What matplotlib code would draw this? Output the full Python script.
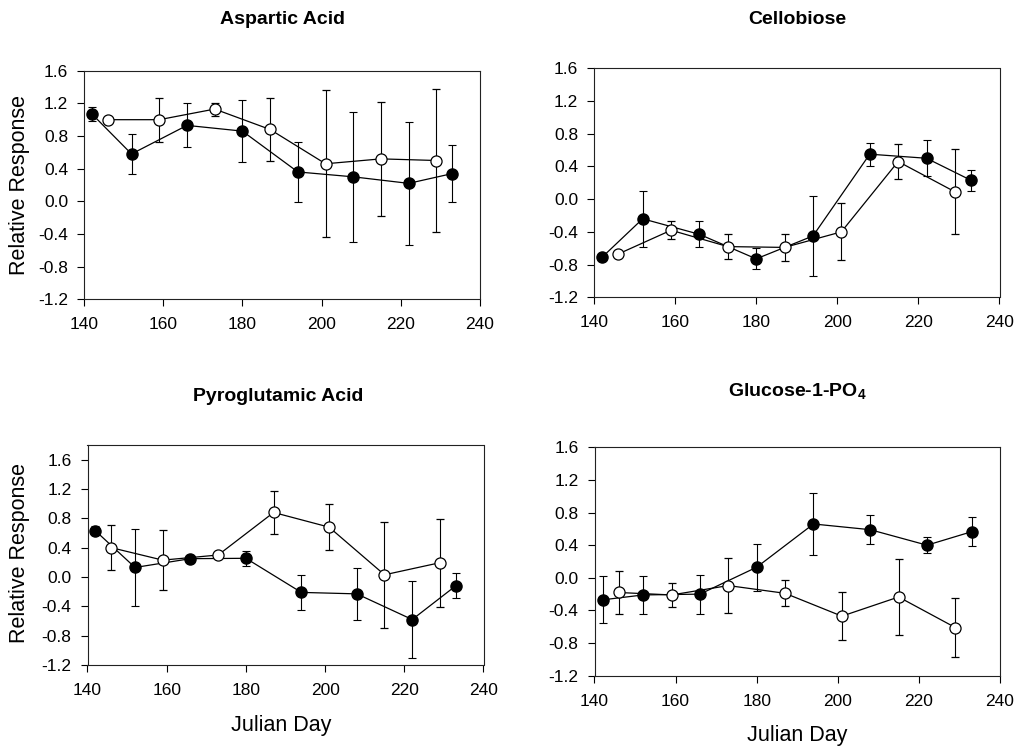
import numpy as np
import matplotlib
matplotlib.use("Agg")
import matplotlib.pyplot as plt

plt.rcParams["font.family"] = ["Liberation Sans", "DejaVu Sans"]
plt.rcParams["mathtext.fontset"] = "custom"
plt.rcParams["mathtext.rm"] = "Liberation Sans:bold"
plt.rcParams["mathtext.it"] = "Liberation Sans:bold"

# sampling days (Julian day) for the two series
filled_days = [142, 152, 166, 180, 194, 208, 222, 233]
open_days = [146, 159, 173, 187, 201, 215, 229]

asp_filled = [1.07, 0.58, 0.93, 0.86, 0.36, 0.30, 0.22, 0.34]
asp_filled_err = [0.08, 0.25, 0.27, 0.38, 0.37, 0.80, 0.75, 0.35]
asp_open = [1.00, 1.00, 1.13, 0.88, 0.46, 0.52, 0.50]
asp_open_err = [0.0, 0.27, 0.08, 0.39, 0.90, 0.70, 0.87]

cel_filled = [-0.71, -0.24, -0.43, -0.73, -0.45, 0.55, 0.50, 0.23]
cel_filled_err = [0.0, 0.34, 0.16, 0.13, 0.49, 0.14, 0.22, 0.13]
cel_open = [-0.67, -0.38, -0.58, -0.59, -0.40, 0.46, 0.09]
cel_open_err = [0.0, 0.11, 0.15, 0.17, 0.35, 0.21, 0.52]

pyr_filled = [0.63, 0.13, 0.25, 0.255, -0.21, -0.23, -0.58, -0.12]
pyr_filled_err = [0.06, 0.53, 0.0, 0.10, 0.24, 0.35, 0.52, 0.17]
pyr_open = [0.40, 0.23, 0.30, 0.88, 0.68, 0.03, 0.195]
pyr_open_err = [0.31, 0.41, 0.0, 0.29, 0.31, 0.72, 0.60]

glu_filled = [-0.27, -0.21, -0.20, 0.13, 0.66, 0.59, 0.40, 0.565]
glu_filled_err = [0.29, 0.23, 0.24, 0.29, 0.375, 0.175, 0.10, 0.18]
glu_open = [-0.18, -0.21, -0.095, -0.19, -0.47, -0.235, -0.61]
glu_open_err = [0.26, 0.15, 0.34, 0.16, 0.29, 0.47, 0.36]

titles = ["Aspartic Acid", "Cellobiose", "Pyroglutamic Acid", r"Glucose-1-PO$_4$"]
y_ticks = [-1.2, -0.8, -0.4, 0.0, 0.4, 0.8, 1.2, 1.6]
x_ticks = [140, 160, 180, 200, 220, 240]

W, H = 1015, 747


def px_axes(fig, left, top, right, bottom):
    return fig.add_axes([left / W, 1 - bottom / H, (right - left) / W, (bottom - top) / H])


def draw_panel(ax, f_vals, f_err, o_vals, o_err, ytop):
    ax.errorbar(filled_days, f_vals, yerr=f_err, color="black", lw=0.9,
                elinewidth=0.8, capsize=3, capthick=0.8, marker="o", ms=8,
                mfc="black", mec="black", zorder=3)
    ax.errorbar(open_days, o_vals, yerr=o_err, color="black", lw=0.9,
                elinewidth=0.8, capsize=3, capthick=0.8, marker="o", ms=8,
                mfc="white", mec="black", mew=0.9, zorder=4)
    ax.set_xlim(140, 240)
    ax.set_ylim(-1.2, ytop)
    ax.set_xticks(x_ticks)
    ax.set_yticks(y_ticks)
    ax.set_yticklabels([f"{v:.1f}" for v in y_ticks])
    ax.tick_params(direction="out", length=5, width=0.8, labelsize=12.5)
    ax.tick_params(axis="x", pad=8)
    ax.tick_params(axis="y", pad=6.5)
    for s in ax.spines.values():
        s.set_linewidth(0.8)
        s.set_color("#222222")


fig = plt.figure(figsize=(W / 100, H / 100), dpi=100)

ax1 = px_axes(fig, 84, 70.7, 480, 299.3)
ax2 = px_axes(fig, 594, 68.3, 999.5, 297.3)
ax3 = px_axes(fig, 87.5, 445, 483.5, 665)
ax4 = px_axes(fig, 594.5, 447.3, 1000, 675.7)

draw_panel(ax1, asp_filled, asp_filled_err, asp_open, asp_open_err, 1.6)
draw_panel(ax2, cel_filled, cel_filled_err, cel_open, cel_open_err, 1.6)
draw_panel(ax3, pyr_filled, pyr_filled_err, pyr_open, pyr_open_err, 1.8)
draw_panel(ax4, glu_filled, glu_filled_err, glu_open, glu_open_err, 1.6)

title_pos = [(282, 20), (797, 20), (278, 396), (797, 391)]
for t, (x, y) in zip(titles, title_pos):
    fig.text(x / W, 1 - y / H, t, ha="center", va="center",
             fontsize=14, fontweight="bold")

fig.text(20 / W, 1 - 185 / H, "Relative Response", rotation=90,
         ha="center", va="center", fontsize=15.5)
fig.text(20 / W, 1 - 553 / H, "Relative Response", rotation=90,
         ha="center", va="center", fontsize=15.5)
fig.text(281 / W, 1 - 725 / H, "Julian Day", ha="center", va="center", fontsize=15.5)
fig.text(797 / W, 1 - 735 / H, "Julian Day", ha="center", va="center", fontsize=15.5)

fig.savefig("out.png", dpi=100)
